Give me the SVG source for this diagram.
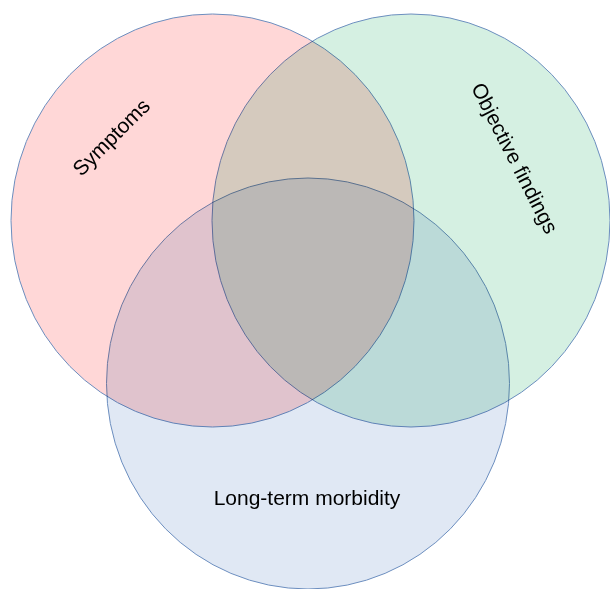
<svg xmlns="http://www.w3.org/2000/svg" width="610" height="589" viewBox="0 0 610 589">
<style>
.set{stroke:#6c8ebf;stroke-width:1;mix-blend-mode:multiply}
.lbl{font-family:"Liberation Sans",Arial,sans-serif;font-size:21px;fill:#000;text-anchor:middle;dominant-baseline:central}
</style>
<rect width="610" height="589" fill="#ffffff"/>
<g id="sets" style="isolation:isolate">
<g id="symptoms"><ellipse class="set" cx="212.5" cy="220.5" rx="201.5" ry="206.5" fill="#ffd7d7"/></g>
<g id="objective-findings"><ellipse class="set" cx="411" cy="220.5" rx="199" ry="206.5" fill="#d5f0e2"/></g>
<g id="long-term-morbidity"><ellipse class="set" cx="308" cy="383.5" rx="201.5" ry="205.5" fill="#e0e8f4"/></g>
</g>
<g id="labels">
<text class="lbl" transform="translate(111,137) rotate(-45)">Symptoms</text>
<text class="lbl" transform="translate(515,158) rotate(63)">Objective findings</text>
<text class="lbl" x="307" y="497">Long-term morbidity</text>
</g>
</svg>
